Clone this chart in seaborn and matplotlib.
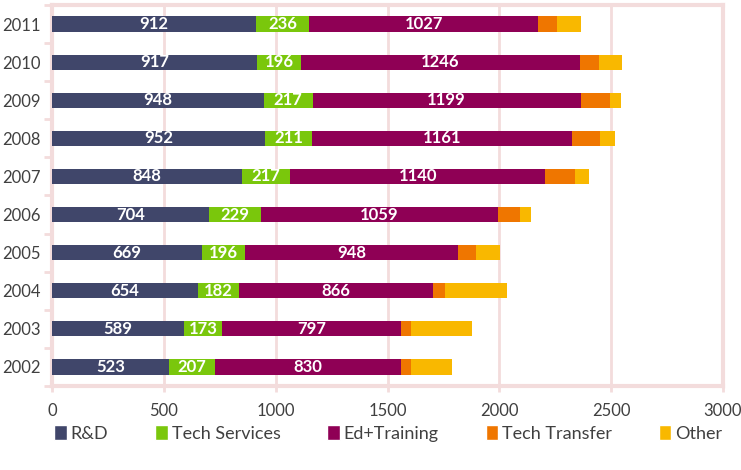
import numpy as np
import pandas as pd
import seaborn as sns
import matplotlib.pyplot as plt
from matplotlib.patches import Patch

years = ['2011', '2010', '2009', '2008', '2007', '2006', '2005', '2004', '2003', '2002']
rnd = [912, 917, 948, 952, 848, 704, 669, 654, 589, 523]
tech_services = [236, 196, 217, 211, 217, 229, 196, 182, 173, 207]
ed_training = [1027, 1246, 1199, 1161, 1140, 1059, 948, 866, 797, 830]
tech_transfer = [81, 87, 133, 127, 134, 101, 83, 57, 44, 44]
other = [110, 102, 47, 64, 64, 49, 106, 277, 274, 185]

names = ['R&D', 'Tech Services', 'Ed+Training', 'Tech Transfer', 'Other']
colors = ['#40466a', '#7ac70c', '#8f0055', '#ef7600', '#f9b800']
pink = '#f3dcdc'
text_col = '#404040'

sns.set_theme(style='white')
plt.rcParams['font.family'] = ['Lato', 'DejaVu Sans']

df = pd.DataFrame({'year': years, 'R&D': rnd, 'Tech Services': tech_services,
                   'Ed+Training': ed_training, 'Tech Transfer': tech_transfer,
                   'Other': other})
cum = df[names].cumsum(axis=1)

fig = plt.figure(figsize=(7.41, 4.70), dpi=100)
ax = fig.add_axes([52 / 741, 84 / 470, 671 / 741, 381 / 470])

# draw cumulative totals from the outside in so the bars look stacked
for name, col in reversed(list(zip(names, colors))):
    sns.barplot(x=cum[name], y=df['year'], order=years, orient='h', color=col,
                width=0.4, ax=ax, zorder=3, saturation=1, linewidth=0)

# value labels for the first three segments
for name in names[:3]:
    for i, yr in enumerate(years):
        v = df.loc[i, name]
        ax.text(cum.loc[i, name] - v / 2, i, str(v), ha='center', va='center',
                color='white', fontsize=12, fontweight='bold', zorder=4)

ax.set_xlim(0, 3000)
ax.set_ylim(len(years) - 0.5, -0.5)
ax.set_xticks(np.arange(0, 3001, 500))
ax.set_xlabel('')
ax.set_ylabel('')
ax.grid(axis='x', color=pink, linewidth=2, zorder=0)
ax.set_axisbelow(True)
for s in ax.spines.values():
    s.set_color(pink)
    s.set_linewidth(3)
ax.set_yticks(np.arange(-0.5, len(years), 1), minor=True)
ax.tick_params(axis='y', which='major', length=0, labelsize=12, labelcolor=text_col, pad=8)
ax.tick_params(axis='y', which='minor', length=6, width=2, color=pink, left=True)
ax.tick_params(axis='x', which='major', length=4, width=2, color=pink, bottom=True,
               labelsize=12, labelcolor=text_col, pad=8)

handles = [Patch(facecolor=c, label=n) for n, c in zip(names, colors)]
fig.legend(handles=handles, loc='center', bbox_to_anchor=(0.524, 0.078), ncol=5,
           frameon=False, fontsize=13, handlelength=0.7, handleheight=0.9,
           handletextpad=0.2, columnspacing=2.6, labelcolor=text_col)

fig.savefig('out.png', dpi=100)
